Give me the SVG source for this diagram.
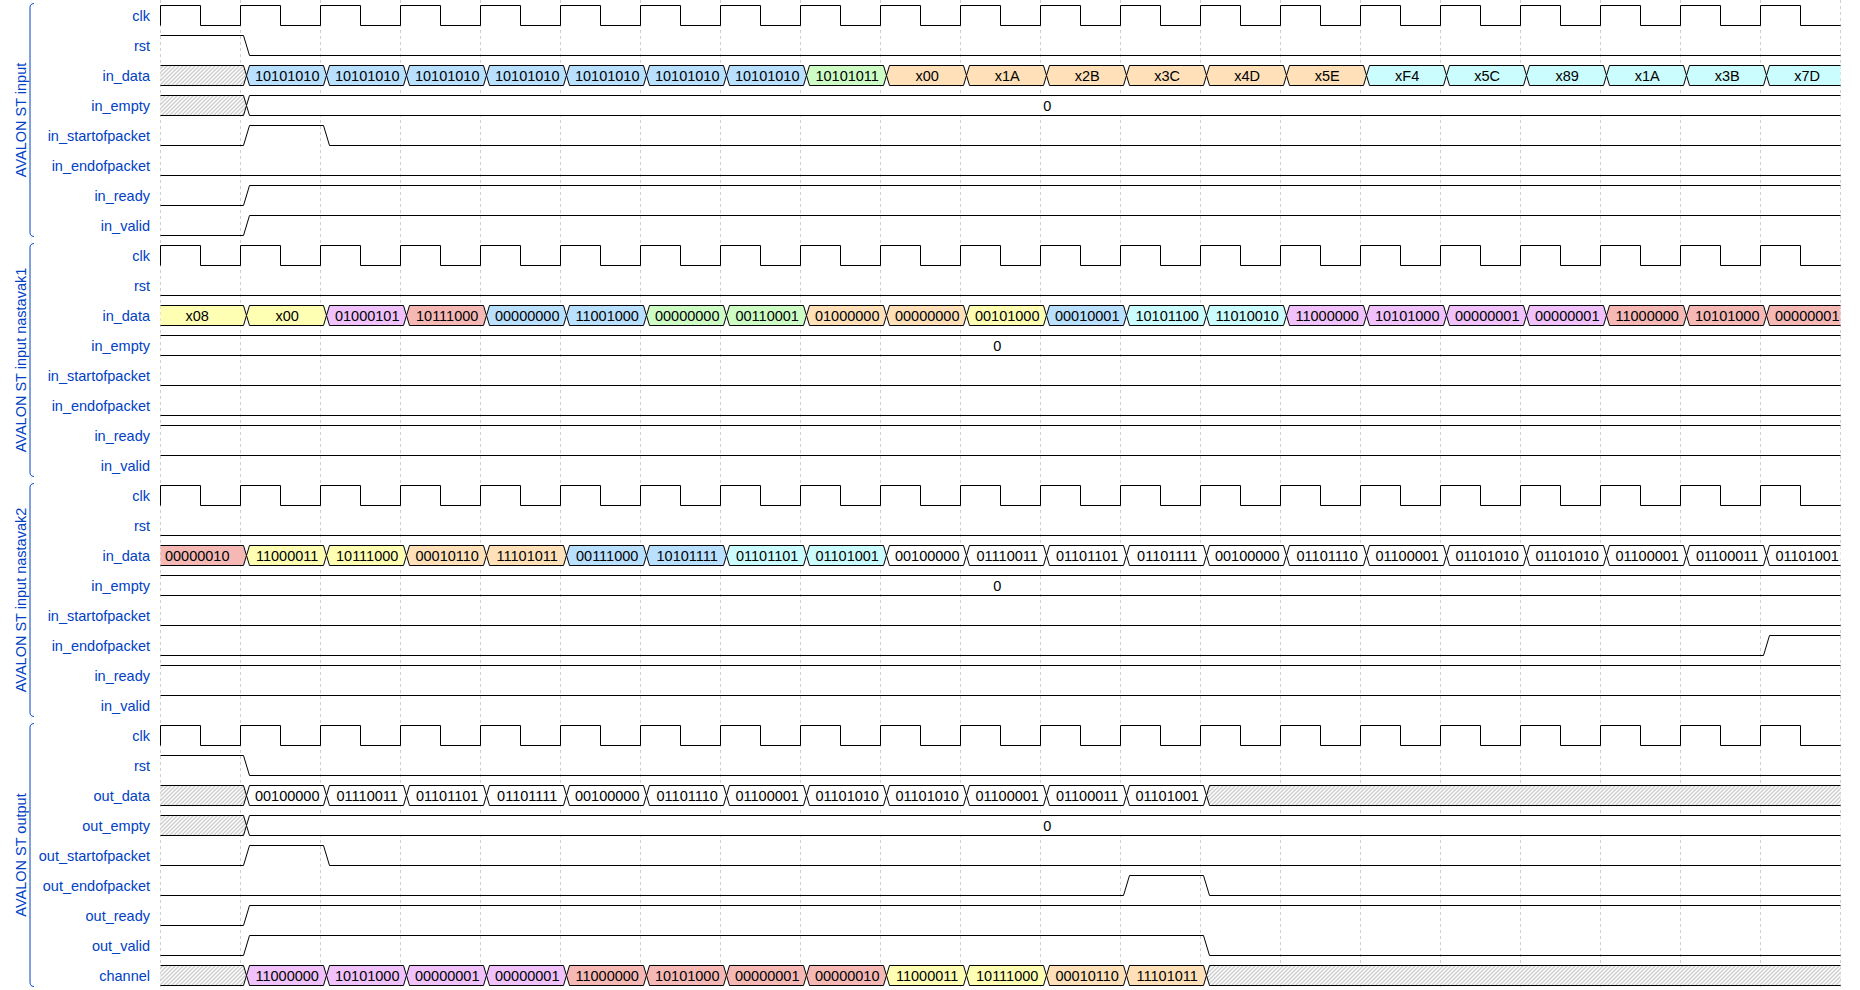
<svg xmlns="http://www.w3.org/2000/svg" width="1860" height="990" viewBox="0 0 1860 990">
<style>
  text { font-family: "Liberation Sans", Arial, sans-serif; font-size: 14.5px; }
  .lb { fill: #0041c4; text-anchor: end; }
  .gl { fill: #0041c4; text-anchor: middle; }
  .br { fill: none; stroke: #0041c4; stroke-width: 1; }
  .dt { fill: #000; text-anchor: middle; }
  .w { fill: none; stroke: #000; stroke-width: 1; }
  .s { stroke: #000; stroke-width: 1; }
  .hx { fill: url(#hatch); stroke: #000; stroke-width: 1; }
  .grid { fill: none; stroke: #cfcfcf; stroke-width: 1; stroke-dasharray: 3 3; }
  .c2 { fill: #ffffff; }
  .c3 { fill: #ffffb4; }
  .c4 { fill: #ffe0b9; }
  .c5 { fill: #b9e0ff; }
  .c6 { fill: #ccfdfe; }
  .c7 { fill: #cdfdc5; }
  .c8 { fill: #f0c1fb; }
  .c9 { fill: #f6b8b5; }
</style>
<defs>
  <!-- undefined-value hatching -->
  <pattern id="hatch" width="4" height="4" patternUnits="userSpaceOnUse">
    <rect width="4" height="4" fill="#fff"/>
    <path d="M-1,1l2-2M0,4l4-4M3,5l2-2" stroke="#808080" stroke-width="0.8"/>
  </pattern>
  <!-- one-cycle data value, anchored at the left crossing point -->
  <path id="seg" d="M0,0l3-10h74l3,10-3,10h-74z" stroke="#000" stroke-width="1"/>
  <!-- 21-cycle clock -->
  <path id="clk" fill="none" stroke="#000" stroke-width="1" d="M160,25V5
    h40v20h40v-20h40v20h40v-20h40v20h40v-20h40v20h40v-20h40v20h40v-20
    h40v20h40v-20h40v20h40v-20h40v20h40v-20h40v20h40v-20h40v20h40v-20
    h40v20h40v-20h40v20h40v-20h40v20h40v-20h40v20h40v-20h40v20h40v-20
    h40v20h40v-20h40v20h40v-20h40v20h40v-20h40v20h40v-20h40v20h40v-20
    h40v20h40"/>
</defs>

<rect width="1860" height="990" fill="#fff"/>

<g id="grid">
  <path class="grid" d="M160.5,0V990M240.5,0V990M320.5,0V990M400.5,0V990M480.5,0V990M560.5,0V990M640.5,0V990M720.5,0V990M800.5,0V990M880.5,0V990M960.5,0V990M1040.5,0V990M1120.5,0V990M1200.5,0V990M1280.5,0V990M1360.5,0V990M1440.5,0V990M1520.5,0V990M1600.5,0V990M1680.5,0V990M1760.5,0V990M1840.5,0V990"/>
</g>

<g id="connectors"></g>

<!-- ============ group 1 ============ -->
<g id="grp-input">
  <path class="br" d="M34,3.5C31.5,3.5 30,5 30,7.5V232.5C30,235 31.5,236.5 34,236.5"/>
  <text class="gl" transform="translate(25.5,120) rotate(-90)">AVALON ST input</text>
  <text class="lb" x="150" y="20.5">clk</text>
  <text class="lb" x="150" y="50.5">rst</text>
  <text class="lb" x="150" y="80.5">in_data</text>
  <text class="lb" x="150" y="110.5">in_empty</text>
  <text class="lb" x="150" y="140.5">in_startofpacket</text>
  <text class="lb" x="150" y="170.5">in_endofpacket</text>
  <text class="lb" x="150" y="200.5">in_ready</text>
  <text class="lb" x="150" y="230.5">in_valid</text>
  <g transform="translate(0.5,0.5)">
    <g id="g1-clk"><use href="#clk"/></g>
    <g id="g1-rst"><path class="w" d="M160,35H243L249,55H1840"/></g>
    <g id="g1-in_data">
      <path class="hx" d="M160,65H243L246,75L243,85H160"/>
      <use href="#seg" x="246" y="75" class="c5"/>
      <use href="#seg" x="326" y="75" class="c5"/>
      <use href="#seg" x="406" y="75" class="c5"/>
      <use href="#seg" x="486" y="75" class="c5"/>
      <use href="#seg" x="566" y="75" class="c5"/>
      <use href="#seg" x="646" y="75" class="c5"/>
      <use href="#seg" x="726" y="75" class="c5"/>
      <use href="#seg" x="806" y="75" class="c7"/>
      <use href="#seg" x="886" y="75" class="c4"/>
      <use href="#seg" x="966" y="75" class="c4"/>
      <use href="#seg" x="1046" y="75" class="c4"/>
      <use href="#seg" x="1126" y="75" class="c4"/>
      <use href="#seg" x="1206" y="75" class="c4"/>
      <use href="#seg" x="1286" y="75" class="c4"/>
      <use href="#seg" x="1366" y="75" class="c6"/>
      <use href="#seg" x="1446" y="75" class="c6"/>
      <use href="#seg" x="1526" y="75" class="c6"/>
      <use href="#seg" x="1606" y="75" class="c6"/>
      <use href="#seg" x="1686" y="75" class="c6"/>
      <path class="c6 s" d="M1840,65H1769L1766,75L1769,85H1840"/>
      <text class="dt" x="286.7" y="80">10101010</text>
      <text class="dt" x="366.7" y="80">10101010</text>
      <text class="dt" x="446.7" y="80">10101010</text>
      <text class="dt" x="526.7" y="80">10101010</text>
      <text class="dt" x="606.7" y="80">10101010</text>
      <text class="dt" x="686.7" y="80">10101010</text>
      <text class="dt" x="766.7" y="80">10101010</text>
      <text class="dt" x="846.7" y="80">10101011</text>
      <text class="dt" x="926.7" y="80">x00</text>
      <text class="dt" x="1006.7" y="80">x1A</text>
      <text class="dt" x="1086.7" y="80">x2B</text>
      <text class="dt" x="1166.7" y="80">x3C</text>
      <text class="dt" x="1246.7" y="80">x4D</text>
      <text class="dt" x="1326.7" y="80">x5E</text>
      <text class="dt" x="1406.7" y="80">xF4</text>
      <text class="dt" x="1486.7" y="80">x5C</text>
      <text class="dt" x="1566.7" y="80">x89</text>
      <text class="dt" x="1646.7" y="80">x1A</text>
      <text class="dt" x="1726.7" y="80">x3B</text>
      <text class="dt" x="1806.7" y="80">x7D</text>
    </g>
    <g id="g1-in_empty">
      <path class="hx" d="M160,95H243L246,105L243,115H160"/>
      <path class="c2 s" d="M1840,95H249L246,105L249,115H1840"/>
      <text class="dt" x="1046.7" y="110">0</text>
    </g>
    <g id="g1-sop"><path class="w" d="M160,145H243L249,125H323L329,145H1840"/></g>
    <g id="g1-eop"><path class="w" d="M160,175H1840"/></g>
    <g id="g1-ready"><path class="w" d="M160,205H243L249,185H1840"/></g>
    <g id="g1-valid"><path class="w" d="M160,235H243L249,215H1840"/></g>
  </g>
</g>

<!-- ============ group 2 ============ -->
<g id="grp-input-nastavak1" transform="translate(0,240)">
  <path class="br" d="M34,3.5C31.5,3.5 30,5 30,7.5V232.5C30,235 31.5,236.5 34,236.5"/>
  <text class="gl" transform="translate(25.5,120) rotate(-90)">AVALON ST input nastavak1</text>
  <text class="lb" x="150" y="20.5">clk</text>
  <text class="lb" x="150" y="50.5">rst</text>
  <text class="lb" x="150" y="80.5">in_data</text>
  <text class="lb" x="150" y="110.5">in_empty</text>
  <text class="lb" x="150" y="140.5">in_startofpacket</text>
  <text class="lb" x="150" y="170.5">in_endofpacket</text>
  <text class="lb" x="150" y="200.5">in_ready</text>
  <text class="lb" x="150" y="230.5">in_valid</text>
  <g transform="translate(0.5,0.5)">
    <g id="g2-clk"><use href="#clk"/></g>
    <g id="g2-rst"><path class="w" d="M160,55H1840"/></g>
    <g id="g2-in_data">
      <path class="c3 s" d="M160,65H243L246,75L243,85H160"/>
      <use href="#seg" x="246" y="75" class="c3"/>
      <use href="#seg" x="326" y="75" class="c8"/>
      <use href="#seg" x="406" y="75" class="c9"/>
      <use href="#seg" x="486" y="75" class="c5"/>
      <use href="#seg" x="566" y="75" class="c5"/>
      <use href="#seg" x="646" y="75" class="c7"/>
      <use href="#seg" x="726" y="75" class="c7"/>
      <use href="#seg" x="806" y="75" class="c4"/>
      <use href="#seg" x="886" y="75" class="c4"/>
      <use href="#seg" x="966" y="75" class="c3"/>
      <use href="#seg" x="1046" y="75" class="c5"/>
      <use href="#seg" x="1126" y="75" class="c6"/>
      <use href="#seg" x="1206" y="75" class="c6"/>
      <use href="#seg" x="1286" y="75" class="c8"/>
      <use href="#seg" x="1366" y="75" class="c8"/>
      <use href="#seg" x="1446" y="75" class="c8"/>
      <use href="#seg" x="1526" y="75" class="c8"/>
      <use href="#seg" x="1606" y="75" class="c9"/>
      <use href="#seg" x="1686" y="75" class="c9"/>
      <path class="c9 s" d="M1840,65H1769L1766,75L1769,85H1840"/>
      <text class="dt" x="196.7" y="80">x08</text>
      <text class="dt" x="286.7" y="80">x00</text>
      <text class="dt" x="366.7" y="80">01000101</text>
      <text class="dt" x="446.7" y="80">10111000</text>
      <text class="dt" x="526.7" y="80">00000000</text>
      <text class="dt" x="606.7" y="80">11001000</text>
      <text class="dt" x="686.7" y="80">00000000</text>
      <text class="dt" x="766.7" y="80">00110001</text>
      <text class="dt" x="846.7" y="80">01000000</text>
      <text class="dt" x="926.7" y="80">00000000</text>
      <text class="dt" x="1006.7" y="80">00101000</text>
      <text class="dt" x="1086.7" y="80">00010001</text>
      <text class="dt" x="1166.7" y="80">10101100</text>
      <text class="dt" x="1246.7" y="80">11010010</text>
      <text class="dt" x="1326.7" y="80">11000000</text>
      <text class="dt" x="1406.7" y="80">10101000</text>
      <text class="dt" x="1486.7" y="80">00000001</text>
      <text class="dt" x="1566.7" y="80">00000001</text>
      <text class="dt" x="1646.7" y="80">11000000</text>
      <text class="dt" x="1726.7" y="80">10101000</text>
      <text class="dt" x="1806.7" y="80">00000001</text>
    </g>
    <g id="g2-in_empty">
      <path class="w" d="M160,95H1840M160,115H1840"/>
      <text class="dt" x="996.7" y="110">0</text>
    </g>
    <g id="g2-sop"><path class="w" d="M160,145H1840"/></g>
    <g id="g2-eop"><path class="w" d="M160,175H1840"/></g>
    <g id="g2-ready"><path class="w" d="M160,185H1840"/></g>
    <g id="g2-valid"><path class="w" d="M160,215H1840"/></g>
  </g>
</g>

<!-- ============ group 3 ============ -->
<g id="grp-input-nastavak2" transform="translate(0,480)">
  <path class="br" d="M34,3.5C31.5,3.5 30,5 30,7.5V232.5C30,235 31.5,236.5 34,236.5"/>
  <text class="gl" transform="translate(25.5,120) rotate(-90)">AVALON ST input nastavak2</text>
  <text class="lb" x="150" y="20.5">clk</text>
  <text class="lb" x="150" y="50.5">rst</text>
  <text class="lb" x="150" y="80.5">in_data</text>
  <text class="lb" x="150" y="110.5">in_empty</text>
  <text class="lb" x="150" y="140.5">in_startofpacket</text>
  <text class="lb" x="150" y="170.5">in_endofpacket</text>
  <text class="lb" x="150" y="200.5">in_ready</text>
  <text class="lb" x="150" y="230.5">in_valid</text>
  <g transform="translate(0.5,0.5)">
    <g id="g3-clk"><use href="#clk"/></g>
    <g id="g3-rst"><path class="w" d="M160,55H1840"/></g>
    <g id="g3-in_data">
      <path class="c9 s" d="M160,65H243L246,75L243,85H160"/>
      <use href="#seg" x="246" y="75" class="c3"/>
      <use href="#seg" x="326" y="75" class="c3"/>
      <use href="#seg" x="406" y="75" class="c4"/>
      <use href="#seg" x="486" y="75" class="c4"/>
      <use href="#seg" x="566" y="75" class="c5"/>
      <use href="#seg" x="646" y="75" class="c5"/>
      <use href="#seg" x="726" y="75" class="c6"/>
      <use href="#seg" x="806" y="75" class="c6"/>
      <use href="#seg" x="886" y="75" class="c2"/>
      <use href="#seg" x="966" y="75" class="c2"/>
      <use href="#seg" x="1046" y="75" class="c2"/>
      <use href="#seg" x="1126" y="75" class="c2"/>
      <use href="#seg" x="1206" y="75" class="c2"/>
      <use href="#seg" x="1286" y="75" class="c2"/>
      <use href="#seg" x="1366" y="75" class="c2"/>
      <use href="#seg" x="1446" y="75" class="c2"/>
      <use href="#seg" x="1526" y="75" class="c2"/>
      <use href="#seg" x="1606" y="75" class="c2"/>
      <use href="#seg" x="1686" y="75" class="c2"/>
      <path class="c2 s" d="M1840,65H1769L1766,75L1769,85H1840"/>
      <text class="dt" x="196.7" y="80">00000010</text>
      <text class="dt" x="286.7" y="80">11000011</text>
      <text class="dt" x="366.7" y="80">10111000</text>
      <text class="dt" x="446.7" y="80">00010110</text>
      <text class="dt" x="526.7" y="80">11101011</text>
      <text class="dt" x="606.7" y="80">00111000</text>
      <text class="dt" x="686.7" y="80">10101111</text>
      <text class="dt" x="766.7" y="80">01101101</text>
      <text class="dt" x="846.7" y="80">01101001</text>
      <text class="dt" x="926.7" y="80">00100000</text>
      <text class="dt" x="1006.7" y="80">01110011</text>
      <text class="dt" x="1086.7" y="80">01101101</text>
      <text class="dt" x="1166.7" y="80">01101111</text>
      <text class="dt" x="1246.7" y="80">00100000</text>
      <text class="dt" x="1326.7" y="80">01101110</text>
      <text class="dt" x="1406.7" y="80">01100001</text>
      <text class="dt" x="1486.7" y="80">01101010</text>
      <text class="dt" x="1566.7" y="80">01101010</text>
      <text class="dt" x="1646.7" y="80">01100001</text>
      <text class="dt" x="1726.7" y="80">01100011</text>
      <text class="dt" x="1806.7" y="80">01101001</text>
    </g>
    <g id="g3-in_empty">
      <path class="w" d="M160,95H1840M160,115H1840"/>
      <text class="dt" x="996.7" y="110">0</text>
    </g>
    <g id="g3-sop"><path class="w" d="M160,145H1840"/></g>
    <g id="g3-eop"><path class="w" d="M160,175H1763L1769,155H1840"/></g>
    <g id="g3-ready"><path class="w" d="M160,185H1840"/></g>
    <g id="g3-valid"><path class="w" d="M160,215H1840"/></g>
  </g>
</g>

<!-- ============ group 4 ============ -->
<g id="grp-output" transform="translate(0,720)">
  <path class="br" d="M34,3.5C31.5,3.5 30,5 30,7.5V262.5C30,265 31.5,266.5 34,266.5"/>
  <text class="gl" transform="translate(25.5,135) rotate(-90)">AVALON ST output</text>
  <text class="lb" x="150" y="20.5">clk</text>
  <text class="lb" x="150" y="50.5">rst</text>
  <text class="lb" x="150" y="80.5">out_data</text>
  <text class="lb" x="150" y="110.5">out_empty</text>
  <text class="lb" x="150" y="140.5">out_startofpacket</text>
  <text class="lb" x="150" y="170.5">out_endofpacket</text>
  <text class="lb" x="150" y="200.5">out_ready</text>
  <text class="lb" x="150" y="230.5">out_valid</text>
  <text class="lb" x="150" y="260.5">channel</text>
  <g transform="translate(0.5,0.5)">
    <g id="g4-clk"><use href="#clk"/></g>
    <g id="g4-rst"><path class="w" d="M160,35H243L249,55H1840"/></g>
    <g id="g4-out_data">
      <path class="hx" d="M160,65H243L246,75L243,85H160"/>
      <use href="#seg" x="246" y="75" class="c2"/>
      <use href="#seg" x="326" y="75" class="c2"/>
      <use href="#seg" x="406" y="75" class="c2"/>
      <use href="#seg" x="486" y="75" class="c2"/>
      <use href="#seg" x="566" y="75" class="c2"/>
      <use href="#seg" x="646" y="75" class="c2"/>
      <use href="#seg" x="726" y="75" class="c2"/>
      <use href="#seg" x="806" y="75" class="c2"/>
      <use href="#seg" x="886" y="75" class="c2"/>
      <use href="#seg" x="966" y="75" class="c2"/>
      <use href="#seg" x="1046" y="75" class="c2"/>
      <use href="#seg" x="1126" y="75" class="c2"/>
      <path class="hx" d="M1840,85H1209L1206,75L1209,65H1840"/>
      <text class="dt" x="286.7" y="80">00100000</text>
      <text class="dt" x="366.7" y="80">01110011</text>
      <text class="dt" x="446.7" y="80">01101101</text>
      <text class="dt" x="526.7" y="80">01101111</text>
      <text class="dt" x="606.7" y="80">00100000</text>
      <text class="dt" x="686.7" y="80">01101110</text>
      <text class="dt" x="766.7" y="80">01100001</text>
      <text class="dt" x="846.7" y="80">01101010</text>
      <text class="dt" x="926.7" y="80">01101010</text>
      <text class="dt" x="1006.7" y="80">01100001</text>
      <text class="dt" x="1086.7" y="80">01100011</text>
      <text class="dt" x="1166.7" y="80">01101001</text>
    </g>
    <g id="g4-out_empty">
      <path class="hx" d="M160,95H243L246,105L243,115H160"/>
      <path class="c2 s" d="M1840,95H249L246,105L249,115H1840"/>
      <text class="dt" x="1046.7" y="110">0</text>
    </g>
    <g id="g4-sop"><path class="w" d="M160,145H243L249,125H323L329,145H1840"/></g>
    <g id="g4-eop"><path class="w" d="M160,175H1123L1129,155H1203L1209,175H1840"/></g>
    <g id="g4-ready"><path class="w" d="M160,205H243L249,185H1840"/></g>
    <g id="g4-valid"><path class="w" d="M160,235H243L249,215H1203L1209,235H1840"/></g>
    <g id="g4-channel">
      <path class="hx" d="M160,245H243L246,255L243,265H160"/>
      <use href="#seg" x="246" y="255" class="c8"/>
      <use href="#seg" x="326" y="255" class="c8"/>
      <use href="#seg" x="406" y="255" class="c8"/>
      <use href="#seg" x="486" y="255" class="c8"/>
      <use href="#seg" x="566" y="255" class="c9"/>
      <use href="#seg" x="646" y="255" class="c9"/>
      <use href="#seg" x="726" y="255" class="c9"/>
      <use href="#seg" x="806" y="255" class="c9"/>
      <use href="#seg" x="886" y="255" class="c3"/>
      <use href="#seg" x="966" y="255" class="c3"/>
      <use href="#seg" x="1046" y="255" class="c4"/>
      <use href="#seg" x="1126" y="255" class="c4"/>
      <path class="hx" d="M1840,265H1209L1206,255L1209,245H1840"/>
      <text class="dt" x="286.7" y="260">11000000</text>
      <text class="dt" x="366.7" y="260">10101000</text>
      <text class="dt" x="446.7" y="260">00000001</text>
      <text class="dt" x="526.7" y="260">00000001</text>
      <text class="dt" x="606.7" y="260">11000000</text>
      <text class="dt" x="686.7" y="260">10101000</text>
      <text class="dt" x="766.7" y="260">00000001</text>
      <text class="dt" x="846.7" y="260">00000010</text>
      <text class="dt" x="926.7" y="260">11000011</text>
      <text class="dt" x="1006.7" y="260">10111000</text>
      <text class="dt" x="1086.7" y="260">00010110</text>
      <text class="dt" x="1166.7" y="260">11101011</text>
    </g>
  </g>
</g>
</svg>
